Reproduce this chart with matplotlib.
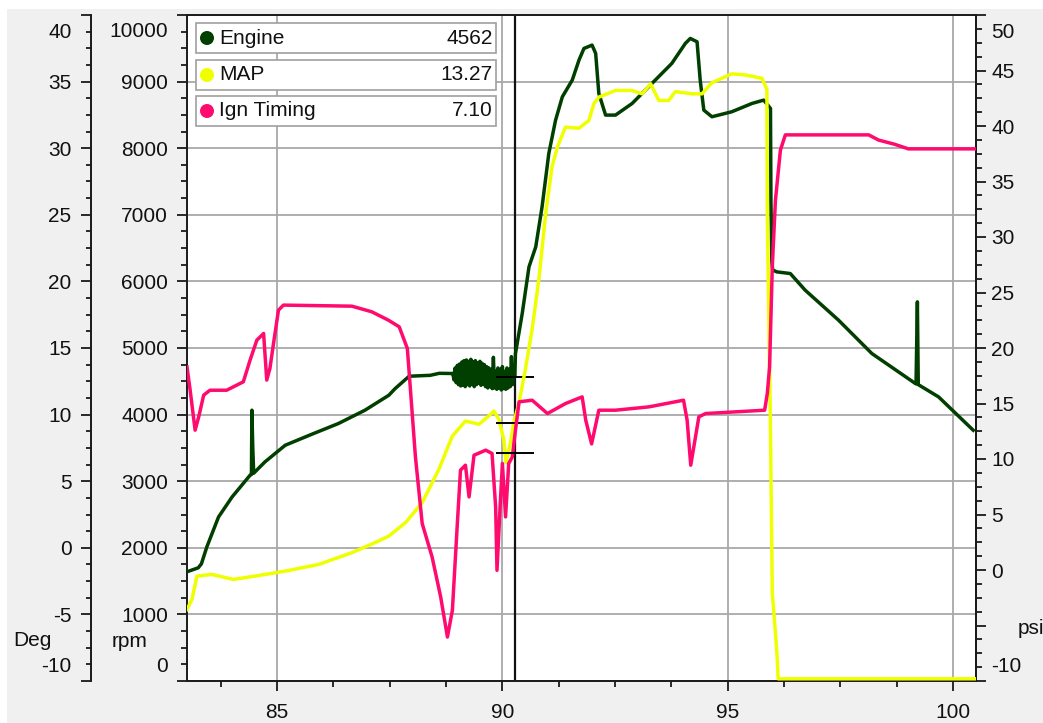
import numpy as np
import matplotlib.pyplot as plt
import matplotlib.transforms as mtransforms
from matplotlib.ticker import AutoMinorLocator
from matplotlib.patches import Rectangle, Ellipse

plt.rcParams['font.family'] = ['Liberation Sans', 'DejaVu Sans']
plt.rcParams['axes.unicode_minus'] = False

# --- data ---
# Engine speed (rpm)
engine_t = [83.00, 83.25, 83.32, 83.44, 83.70, 84.00, 84.40, 84.43, 84.44, 84.46, 84.48,
            84.73, 85.18, 85.77, 86.36, 86.95, 87.48, 87.62, 87.93, 88.40, 88.60, 88.875,
            88.900, 88.925, 88.950, 88.975, 89.000, 89.025, 89.050, 89.075, 89.100, 89.125,
            89.150, 89.175, 89.200, 89.225, 89.250, 89.275, 89.300, 89.325, 89.350, 89.375,
            89.400, 89.425, 89.450, 89.475, 89.500, 89.525, 89.550, 89.575, 89.600, 89.625,
            89.650, 89.675, 89.700, 89.725, 89.750, 89.775, 89.800, 89.825, 89.850, 89.875,
            89.900, 89.925, 89.950, 89.975, 90.000, 90.025, 90.050, 90.075, 90.100, 90.125,
            90.150, 90.175, 90.200, 90.225, 90.250, 90.275,
            90.29, 90.44, 90.59, 90.74, 90.88, 91.03, 91.18, 91.33, 91.55, 91.70, 91.81,
            91.99, 92.07, 92.14, 92.29, 92.51, 92.88, 93.32, 93.76, 94.06, 94.17, 94.32,
            94.39, 94.47, 94.65, 95.09, 95.54, 95.80, 95.95, 95.96, 95.98, 96.00, 96.09,
            96.39, 96.72, 97.46, 98.20, 99.18, 99.21, 99.23, 99.68, 100.45]
engine_rpm = [1640, 1700, 1760, 2013, 2463, 2763, 3090, 3100, 4066, 3500, 3120,
              3290, 3540, 3705, 3866, 4066, 4291, 4391, 4576, 4590, 4620, 4617,
              4620, 4520, 4700, 4480, 4740, 4450, 4760, 4430, 4790, 4440,
              4810, 4420, 4820, 4450, 4800, 4430, 4830, 4460, 4790, 4420,
              4810, 4450, 4780, 4470, 4800, 4440, 4770, 4460, 4750, 4420,
              4720, 4400, 4700, 4420, 4680, 4390, 4860, 4400, 4650, 4380,
              4700, 4400, 4680, 4370, 4720, 4390, 4650, 4380, 4700, 4400,
              4680, 4420, 4870, 4450, 4620, 4562,
              4917, 5518, 6218, 6518, 7119, 7921, 8421, 8771, 9022, 9323, 9498,
              9548, 9423, 8823, 8497, 8497, 8672, 8973, 9273, 9573, 9648, 9598,
              9022, 8572, 8472, 8547, 8672, 8722, 8597, 7200, 6300, 6170, 6143,
              6118, 5868, 5418, 4917, 4460, 5693, 4450, 4266, 3765]

# Manifold pressure (psi)
map_t = [83.00, 83.11, 83.22, 83.55, 84.03, 84.51, 85.18, 85.92, 86.66, 87.17, 87.48,
         87.85, 88.22, 88.59, 88.89, 89.18, 89.48, 89.70, 89.81, 89.92, 90.03, 90.08,
         90.18, 90.25, 90.37, 90.51, 90.66, 90.81, 90.96, 91.10, 91.22, 91.40, 91.70,
         91.92, 92.03, 92.14, 92.51, 92.88, 93.10, 93.29, 93.47, 93.69, 93.84, 94.21,
         94.43, 94.65, 95.09, 95.39, 95.76, 95.87, 95.88, 95.95, 95.99, 96.06, 96.10,
         96.12, 100.50]
map_psi = [-3.55, -2.65, -0.55, -0.40, -0.85, -0.55, -0.10, 0.50, 1.56, 2.46, 3.06,
           4.27, 6.07, 9.07, 12.07, 13.42, 13.13, 13.88, 14.33, 13.58, 11.77, 9.67,
           11.47, 13.27, 15.08, 18.08, 21.69, 26.20, 32.10, 36.30, 38.10, 39.90, 39.80,
           40.50, 42.00, 42.60, 43.20, 43.20, 42.90, 43.80, 42.30, 42.30, 43.10, 42.90,
           42.90, 43.90, 44.70, 44.60, 44.30, 43.30, 32.00, 12.60, -2.06, -5.66, -8.00,
           -9.80, -9.80]

# Ignition timing (deg)
ign_t = [83.00, 83.07, 83.18, 83.26, 83.37, 83.51, 83.88, 84.25, 84.40, 84.55, 84.70,
         84.77, 84.84, 84.92, 85.03, 85.14, 86.66, 87.10, 87.47, 87.71, 87.89, 87.96,
         88.07, 88.22, 88.44, 88.63, 88.78, 88.89, 89.00, 89.07, 89.18, 89.26, 89.37,
         89.63, 89.77, 89.85, 89.88, 89.96, 90.00, 90.07, 90.14, 90.22, 90.29, 90.37,
         90.66, 91.00, 91.40, 91.77, 91.85, 91.98, 92.14, 92.51, 93.25, 94.02, 94.10,
         94.18, 94.36, 94.51, 95.82, 95.88, 95.93, 95.99, 96.06, 96.17, 96.28, 98.13,
         98.35, 98.70, 99.01, 100.50]
ign_deg = [13.58, 11.83, 8.83, 9.83, 11.46, 11.83, 11.83, 12.46, 14.09, 15.59, 16.09,
           12.59, 13.46, 15.34, 17.84, 18.22, 18.14, 17.72, 17.09, 16.59, 14.97, 11.83,
           6.82, 1.82, -0.69, -3.69, -6.70, -4.69, 1.82, 5.83, 6.20, 3.82, 6.95,
           7.33, 7.08, 3.07, -1.69, 3.82, 6.33, 2.32, 6.33, 6.82, 8.83, 10.96,
           11.08, 10.08, 10.83, 11.33, 9.58, 7.80, 10.33, 10.33, 10.58, 11.08, 9.58,
           6.20, 9.83, 10.08, 10.33, 11.60, 13.60, 21.10, 26.10, 29.86, 31.00, 31.00,
           30.61, 30.30, 29.95, 29.95]

# cursor readout
cursor_t = 90.28
legend_names = ['Engine', 'MAP', 'Ign Timing']
legend_values = ['4562', '13.27', '7.10']
cursor_rpm, cursor_psi, cursor_deg = 4562, 13.27, 7.10

c_engine = '#003f00'
c_map = '#f0ff00'
c_ign = '#ff0a6e'

W, H = 1043, 723
fs = 15
lw = 2.5


def fx(px):
    return px / W


def fy(py):
    return 1 - py / H


fig = plt.figure(figsize=(W / 100, H / 100), dpi=100, facecolor='white')
fig.patches.append(Rectangle((fx(7), 0), 1, fy(9), transform=fig.transFigure,
                             facecolor='#f0f0f0', edgecolor='none', zorder=-10))

ax = fig.add_axes([fx(187), fy(681), fx(975.5) - fx(187), fy(15) - fy(681)])
ax_psi = ax.twinx()
ax_deg = ax.twinx()

ax.set_facecolor('white')
ax.set_xlim(83.0, 100.5)
ax.set_ylim(0, 10000)
ax_psi.set_ylim(-10, 50)
ax_deg.set_ylim(-10, 40)

ax.set_xticks([85, 90, 95, 100])
ax.xaxis.set_minor_locator(AutoMinorLocator(4))
ax.set_yticks(range(0, 10001, 1000))
ax.yaxis.set_minor_locator(AutoMinorLocator(4))
psi_ticks = list(range(-10, 51, 5))
ax_psi.set_yticks(psi_ticks)
# the "psi" caption sits where the -5 label would be
ax_psi.set_yticklabels(['' if v == -5 else str(v) for v in psi_ticks])
ax_psi.yaxis.set_minor_locator(AutoMinorLocator(4))
ax_deg.set_yticks(range(-10, 41, 5))
ax_deg.yaxis.set_minor_locator(AutoMinorLocator(4))

ax.grid(True, which='major', color='#a8a8a8', lw=1.3)
ax.set_axisbelow(True)

# spines
for s in ax.spines.values():
    s.set_color('#1a1a1a')
    s.set_linewidth(1.4)
for name in ['left', 'top', 'bottom']:
    ax_psi.spines[name].set_visible(False)
ax_psi.spines['right'].set_color('#1a1a1a')
ax_psi.spines['right'].set_linewidth(1.4)

ax_deg.yaxis.set_ticks_position('left')
ax_deg.yaxis.set_label_position('left')
for name in ['right', 'top', 'bottom']:
    ax_deg.spines[name].set_visible(False)
ax_deg.spines['left'].set_visible(True)
ax_deg.spines['left'].set_position(('outward', 69.1))
ax_deg.spines['left'].set_color('#1a1a1a')
ax_deg.spines['left'].set_linewidth(1.4)

tick_kw = dict(direction='out', colors='#1a1a1a', labelcolor='#111111', labelsize=fs)
ax.tick_params(axis='x', which='major', length=7.5, width=1.3, pad=8, **tick_kw)
ax.tick_params(axis='x', which='minor', length=4, width=1.3, **tick_kw)
ax.tick_params(axis='y', which='major', length=7.5, width=1.3, pad=6, **tick_kw)
ax.tick_params(axis='y', which='minor', length=4, width=1.3, **tick_kw)
ax_deg.tick_params(axis='y', which='major', length=7, width=1.3, pad=7, **tick_kw)
ax_deg.tick_params(axis='y', which='minor', length=3.5, width=1.3, **tick_kw)
ax_psi.tick_params(axis='y', which='major', length=7.5, width=1.3, pad=4, **tick_kw)
ax_psi.tick_params(axis='y', which='minor', length=4, width=1.3, **tick_kw)


def nudge(label, dy_px):
    label.set_transform(label.get_transform() +
                        mtransforms.ScaledTranslation(0, dy_px / 100, fig.dpi_scale_trans))


# keep the end labels inside the axis span
for a in (ax, ax_psi, ax_deg):
    labs = a.get_yticklabels()
    nudge(labs[0], 16)
    nudge(labs[-1], -15)

# traces
ax.axvline(cursor_t, color='#111111', lw=1.6, zorder=1)
ax.plot(engine_t, engine_rpm, color=c_engine, lw=lw, zorder=3)
ax_psi.plot(map_t, map_psi, color=c_map, lw=lw, zorder=3)
ax_deg.plot(ign_t, ign_deg, color=c_ign, lw=lw, zorder=3)

# cursor value markers
ax.hlines(cursor_rpm, cursor_t - 0.43, cursor_t + 0.43, color='black', lw=1.4, zorder=4)
ax_psi.hlines(cursor_psi, cursor_t - 0.43, cursor_t + 0.43, color='black', lw=1.4, zorder=4)
ax_deg.hlines(cursor_deg, cursor_t - 0.43, cursor_t + 0.43, color='black', lw=1.4, zorder=4)

# axis unit names
fig.text(fx(13), fy(646), 'Deg', fontsize=fs, color='#111111', va='baseline')
fig.text(fx(112), fy(647), 'rpm', fontsize=fs, color='#111111', va='baseline')
fig.text(fx(1018), fy(634), 'psi', fontsize=fs, color='#111111', va='baseline')

# legend readout boxes
box_tops = [23, 60, 96]
colors = [c_engine, c_map, c_ign]
for top, name, val, col in zip(box_tops, legend_names, legend_values, colors):
    fig.add_artist(Rectangle((fx(196), fy(top + 30)), fx(496) - fx(196), 30 / H,
                             transform=fig.transFigure, facecolor='white',
                             edgecolor='#a0a0a0', lw=1.2, zorder=5))
    yc = top + 15
    fig.add_artist(Ellipse((fx(207), fy(yc)), 14 / W, 14 / H, transform=fig.transFigure,
                           facecolor=col, edgecolor='none', zorder=6))
    fig.text(fx(219), fy(yc), name, fontsize=fs, color='#111111', va='center', ha='left', zorder=6)
    fig.text(fx(493), fy(yc), val, fontsize=fs, color='#111111', va='center', ha='right', zorder=6)

fig.savefig('out.png', dpi=100, facecolor=fig.get_facecolor())
